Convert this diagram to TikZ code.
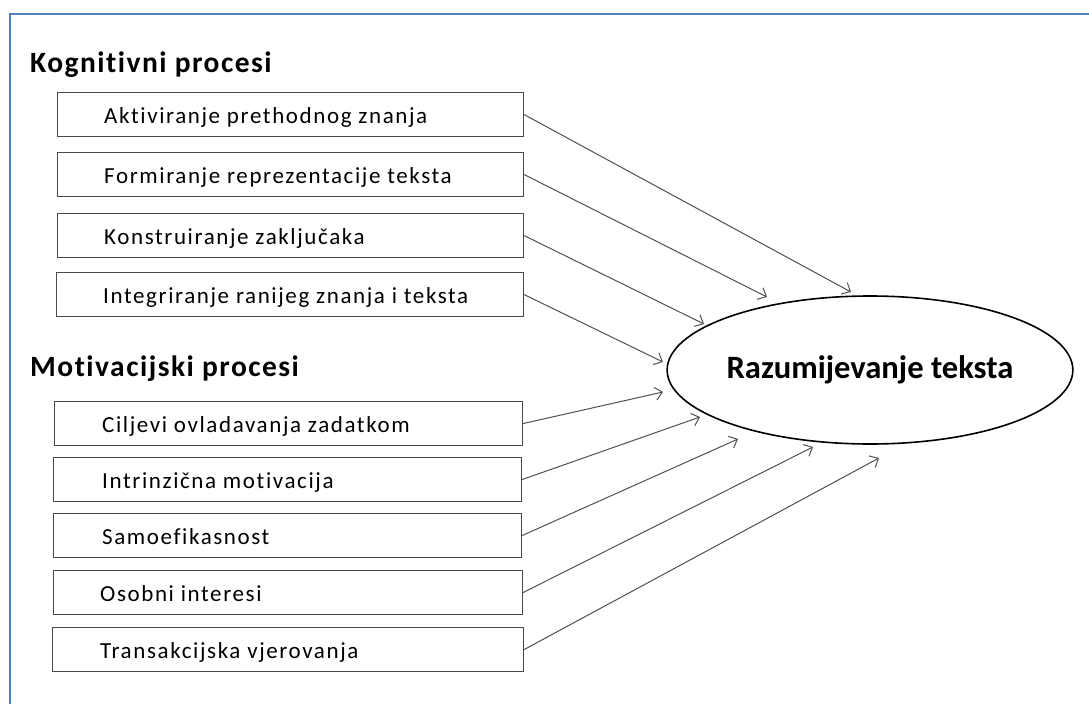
\documentclass[tikz,border=0pt]{standalone}
\usepackage{fontspec}
\setmainfont{Carlito}[Ligatures=NoCommon]
\newfontfamily\boxfont[LetterSpace=7,Ligatures=NoCommon]{Carlito}
\newfontfamily\headfont[LetterSpace=5,Ligatures=NoCommon]{Carlito}
\usetikzlibrary{arrows.meta,shapes.geometric}
\definecolor{framec}{HTML}{4F81BD}
\definecolor{boxc}{HTML}{4A4A4A}
\definecolor{arrc}{HTML}{505050}
\tikzset{
  procbox/.style={draw=boxc, line width=1.1pt, minimum width=466pt, minimum height=44pt, inner sep=0pt, anchor=north west},
  proctext/.style={anchor=base west, inner sep=0pt, font=\boxfont\fontsize{23}{27}\selectfont},
  heading/.style={anchor=base west, inner sep=0pt, font=\headfont\fontsize{29.5}{34}\selectfont\bfseries},
  conn/.style={draw=arrc, line width=1pt, -{Straight Barb[length=7pt,width=13pt,line width=1pt]}},
}
\begin{document}
\begin{tikzpicture}[x=1pt,y=-1pt]
\useasboundingbox (0,0) rectangle (1089,704);
\draw[framec, line width=2pt] (10,704) -- (10,14) -- (1089,14);

\node[heading] (h1) at (30,72) {Kognitivni procesi};
\node[heading] (h2) at (30,376) {Motivacijski procesi};

\node[procbox] (b1) at (57,92) {};
\node[procbox] (b2) at (57,152) {};
\node[procbox] (b3) at (57,213) {};
\node[procbox, minimum width=467pt] (b4) at (56,272) {};
\node[procbox, minimum width=468pt] (b5) at (54,401) {};
\node[procbox, minimum width=468pt] (b6) at (53,457) {};
\node[procbox, minimum width=468pt] (b7) at (53,513) {};
\node[procbox, minimum width=469pt] (b8) at (53,570) {};
\node[procbox, minimum width=471pt] (b9) at (52,627) {};

\node[proctext] (l1) at (104,123) {Aktiviranje prethodnog znanja};
\node[proctext] (l2) at (104,183) {Formiranje reprezentacije teksta};
\node[proctext] (l3) at (104,244) {Konstruiranje zaključaka};
\node[proctext] (l4) at (103,303) {Integriranje ranijeg znanja i teksta};
\node[proctext] (l5) at (102,432) {Ciljevi ovladavanja zadatkom};
\node[proctext] (l6) at (102,488) {Intrinzična motivacija};
\node[proctext] (l7) at (102,544) {Samoefikasnost};
\node[proctext] (l8) at (100,601) {Osobni interesi};
\node[proctext] (l9) at (100,658) {Transakcijska vjerovanja};

\node[ellipse, draw=black, line width=1.6pt, minimum width=396pt, minimum height=148pt, inner sep=0pt,
      font=\fontsize{32.6}{37}\selectfont\bfseries] (e) at (870,370) {Razumijevanje teksta};

\coordinate (t1) at (851,292);
\coordinate (t2) at (767,297);
\coordinate (t3) at (704,324);
\coordinate (t4) at (663,362);
\coordinate (t5) at (663,392);
\coordinate (t6) at (700,417);
\coordinate (t7) at (738,439);
\coordinate (t8) at (813,447);
\coordinate (t9) at (879,458);

\foreach \i in {1,...,9} {\draw[conn] (b\i.east) -- (t\i);}
\end{tikzpicture}
\end{document}
